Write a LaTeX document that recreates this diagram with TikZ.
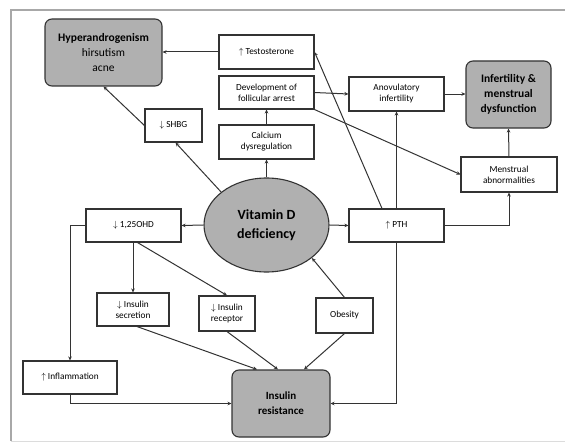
\documentclass[tikz,border=0pt]{standalone}
\usepackage{fontspec}
\setmainfont{Carlito}
\usetikzlibrary{shapes.geometric,arrows.meta}
\definecolor{lineC}{HTML}{333333}
\definecolor{fillC}{HTML}{B0B0B0}
\definecolor{frameC}{HTML}{A8A8A8}
\begin{document}
\begin{tikzpicture}[x=1pt, y=-1pt,
      >={Stealth[length=4pt, width=3.6pt]},
      every node/.style={font=\fontsize{9.3}{11}\selectfont},
      box/.style={rectangle, draw=lineC, fill=white, line width=1.1pt,
                  align=center, inner sep=1pt},
      outcome/.style={rectangle, rounded corners=7pt, draw=lineC, fill=fillC,
                  line width=1.1pt, align=center, inner sep=1pt,
                  font=\fontsize{11.5}{15}\selectfont\bfseries},
      cause/.style={ellipse, draw=lineC, fill=fillC, line width=1.1pt, align=center,
                  inner sep=0pt, minimum width=125pt, minimum height=94pt,
                  font=\fontsize{14}{19}\selectfont\bfseries},
      link/.style={->, line width=1pt, lineC},
    ]
    \useasboundingbox (0,0) rectangle (565,444);
    \draw[frameC, line width=1.4pt] (565,10) -- (11,10) -- (11,441);
    \draw[frameC!40, line width=1pt] (11,441) -- (565,441);

    % outcomes
    \node[outcome, minimum width=117pt, minimum height=67pt] (hyper) at (103.5,52.5)
      {Hyperandrogenism\\\mdseries hirsutism\\\mdseries acne};
    \node[outcome, minimum width=85pt, minimum height=67pt] (infert) at (508.5,94.5)
      {Infertility \&\\menstrual\\dysfunction};
    \node[outcome, minimum width=98pt, minimum height=67pt, font=\fontsize{11}{15}\selectfont\bfseries] (ir) at (281,403.5)
      {Insulin\\resistance};

    \node[cause] (vitd) at (266.5,225) {Vitamin D\\deficiency};

    % intermediate steps
    \node[box, minimum width=95pt, minimum height=34pt] (testo) at (266.5,52)
      {$\uparrow$ Testosterone};
    \node[box, minimum width=95pt, minimum height=33pt] (follic) at (266.5,92.5)
      {Development of\\follicular arrest};
    \node[box, minimum width=95pt, minimum height=34pt] (calcium) at (266.5,142)
      {Calcium\\dysregulation};
    \node[box, minimum width=57pt, minimum height=33pt] (shbg) at (173.5,125.5)
      {$\downarrow$ SHBG};
    \node[box, minimum width=95pt, minimum height=34pt] (anov) at (396.5,94)
      {Anovulatory\\infertility};
    \node[box, minimum width=96pt, minimum height=35pt] (menstr) at (509,174.5)
      {Menstrual\\abnormalities};
    \node[box, minimum width=95pt, minimum height=33pt] (pth) at (396.5,225.5)
      {$\uparrow$ PTH};
    \node[box, minimum width=95pt, minimum height=33pt] (ohd) at (133.5,225.5)
      {$\downarrow$ 1,25OHD};
    \node[box, minimum width=72pt, minimum height=33pt] (insec) at (133,309.5)
      {$\downarrow$ Insulin\\secretion};
    \node[box, minimum width=56pt, minimum height=35pt] (inrec) at (227,313.5)
      {$\downarrow$ Insulin\\receptor};
    \node[box, minimum width=57pt, minimum height=35pt] (obes) at (344.5,315.5)
      {Obesity};
    \node[box, minimum width=94pt, minimum height=33pt] (inflam) at (70,377.5)
      {$\uparrow$ Inflammation};

    % connectors
    \draw[link] (testo.west) -- (hyper.east |- testo.west);
    \draw[link] (shbg.west) -- (hyper.south);
    \draw[link] (vitd.144) -- ([xshift=2pt]shbg.south);
    \draw[link] (vitd.north) -- (calcium.south);
    \draw[link] (calcium.north) -- (follic.south);
    \draw[link] (follic.east) -- (anov.west);
    \draw[link] (follic.south east) -- (menstr.west);
    \draw[link] (anov.east) -- (infert.west |- anov.east);
    \draw[link] (menstr.north) -- (infert.south);

    \draw[link] (vitd.east) -- (pth.west);
    \draw[link] ([xshift=-14.5pt]pth.north) -- (testo.east);
    \draw[link] (pth.north) -- (anov.south);
    \draw[link] (pth.east) -| (menstr.south);
    \draw[link] (pth.south) |- (ir.east);

    \draw[link] (vitd.west) -- (ohd.east);
    \draw[link] (ohd.south -| insec.north) -- (insec.north);
    \draw[link] ([xshift=4pt]ohd.south) -- (inrec.north);
    \draw[link] (ohd.west) -| (inflam.north);
    \draw[link] (inflam.south) |- (ir.west);

    \draw[link] ([xshift=4pt]insec.south) -- ([xshift=-24pt]ir.north);
    \draw[link] (inrec.south) -- ([xshift=-3pt]ir.north);
    \draw[link] (obes.south) -- ([xshift=23pt]ir.north);
    \draw[link] (obes.north) -- (vitd.-36);
  \end{tikzpicture}
\end{document}
